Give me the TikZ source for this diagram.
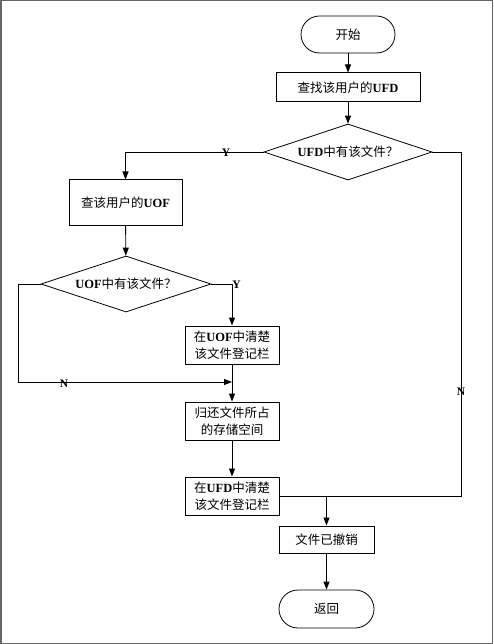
\documentclass[tikz,border=0pt]{standalone}
\usepackage{fontspec}
\setmainfont{Liberation Serif}
\newfontfamily\cjk{Noto Sans CJK SC}
\usetikzlibrary{arrows.meta, positioning, shapes.geometric, shapes.misc}
\newcommand*{\zh}[1]{{\cjk #1}}

\begin{document}
\begin{tikzpicture}[x=1pt,y=-1pt,node distance=1cm,on grid,>={Triangle[length=8pt,width=6pt]},
      every node/.style={font=\fontsize{12.5}{17}\selectfont},
      box/.style={draw,line width=1pt,inner sep=0pt,align=center,minimum width=94pt,minimum height=38pt},
      term/.style={draw,line width=0.8pt,rounded rectangle,inner sep=0pt,minimum width=94pt,minimum height=37pt},
      ask/.style={draw,line width=0.8pt,diamond,aspect=3,inner sep=0pt,minimum width=168pt,minimum height=56pt},
      yn/.style={font=\fontsize{11.5}{13}\selectfont\bfseries,inner sep=0pt},
      line width=0.9pt]
      \useasboundingbox (0,0) rectangle (493,644);
      \draw[gray!80!black,line width=1.5pt] (0.75,0.75) rectangle (492.25,643.25);
      \node[term] (start) at (348,34.5) {\zh{开始}};
      \node[box,minimum width=144pt,minimum height=29pt] (find) [below=53pt of start] {\zh{查找该用户的}\textbf{UFD}};
      \node[ask] (ufd) at (348,152) {\textbf{UFD}\zh{中有该文件？}};
      \node[box,minimum width=113pt,minimum height=45pt] (uof) at (125.5,202.5) {\zh{查该用户的}\textbf{UOF}};
      \node[ask,minimum width=170pt] (hasuof) at (126,284) {\textbf{UOF}\zh{中有该文件？}};
      \node[box] (clruof) at (232,345) {\zh{在}\textbf{UOF}\zh{中清楚}\\\zh{该文件登记栏}};
      \node[box] (back) [below=76pt of clruof] {\zh{归还文件所占}\\\zh{的存储空间}};
      \node[box] (clrufd) [below=75pt of back] {\zh{在}\textbf{UFD}\zh{中清楚}\\\zh{该文件登记栏}};
      \node[box,minimum width=95pt,minimum height=27pt] (done) at (326.5,539.5) {\zh{文件已撤销}};
      \node[term,minimum width=95pt,minimum height=38pt] (stop) [below=69.5pt of done] {\zh{返回}};
      \coordinate (nleft) at (18,382);
      \coordinate (njoin) at (232,382);
      \coordinate (nright) at (461,496);
      \coordinate (rjoin) at (326.5,496);
      \draw[->] (start) -- (find);
      \draw[->] (find) -- (ufd);
      \draw[->] (ufd.west) -| (uof.north);
      \node[yn] at (226,152.5) {Y};
      \draw[->] (uof) -- (hasuof);
      \draw[->] (hasuof.east) -| (clruof.north);
      \node[yn] at (236.5,285) {Y};
      \draw[->] (hasuof.west) -| (nleft) -- (njoin);
      \node[yn] at (64,384) {N};
      \draw[->] (clruof) -- (back);
      \draw[->] (back) -- (clrufd);
      \draw (ufd.east) -| (nright) -- (rjoin);
      \node[yn] at (461,392) {N};
      \draw[->] (clrufd.east) -| (done.north);
      \draw[->] (done) -- (stop);
    \end{tikzpicture}
\end{document}
